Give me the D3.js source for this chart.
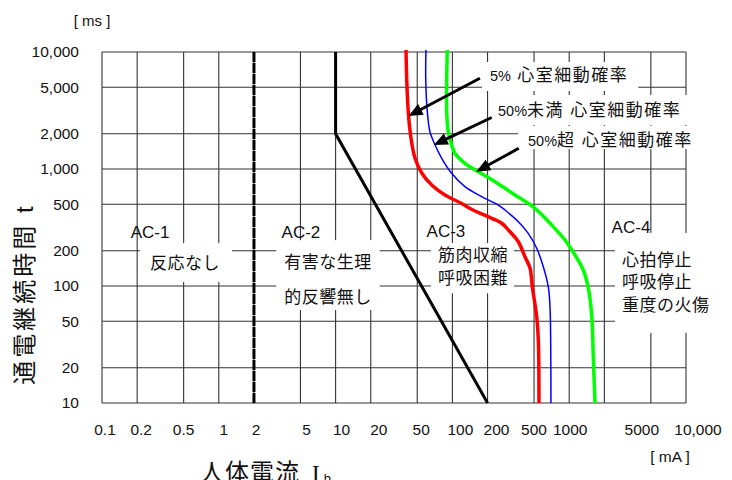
<!DOCTYPE html>
<html>
<head>
<meta charset="utf-8">
<script src="https://cdn.jsdelivr.net/npm/d3@7"></script>
<style>
  body { margin: 0; background: #fff; }
  text { font-family: "Liberation Sans", Arial, "Noto Sans CJK JP", sans-serif; fill: #111; }
</style>
</head>
<body>
<script>
// tick values / labels
var xTicks = [0.1, 0.2, 0.5, 1, 2, 5, 10, 20, 50, 100, 200, 500, 1000, 2000, 5000, 10000];
var xTickLabels = ["0.1", "0.2", "0.5", "1", "2", "5", "10", "20", "50", "100", "200", "500", "1000", "", "5000", "10,000"];
var yTicks = [10, 20, 50, 100, 200, 500, 1000, 2000, 5000, 10000];
var yTickLabels = ["10", "20", "50", "100", "200", "500", "1,000", "2,000", "5,000", "10,000"];

// boundary curves  [mA, ms]
var curveA = [[2, 10000], [2, 10]];
var curveB = [[10, 10000], [10, 2000], [200, 10]];
var curveC1 = [[40.1, 10400], [40.6, 6000], [41.9, 3070], [44.2, 1840], [47.8, 1240], [54.6, 924], [66.5, 730],
  [86.4, 600], [120, 507], [150, 446], [217, 379], [264, 344], [311, 291], [367, 239], [418, 178], [462, 142],
  [483, 98.6], [527, 54.7], [544, 34.6], [551, 10]];
var curveC2 = [[59.4, 10400], [59.1, 6000], [61.0, 3070], [64.3, 2070], [70.0, 1660], [81.0, 1235], [98.6, 919],
  [128, 706], [178, 580], [247, 492], [282, 446], [367, 354], [446, 282], [527, 210], [600, 146], [662, 98.6],
  [685, 66.5], [694, 34.6], [698, 10]];
var curveC3 = [[90.4, 10400], [89.4, 6000], [89.4, 3070], [92.2, 2070], [98.6, 1604], [105, 1362], [128, 1119],
  [167, 948], [232, 779], [324, 624], [509, 461], [708, 332], [920, 247], [1121, 184], [1320, 137], [1457, 96],
  [1558, 56.5], [1608, 24.7], [1663, 10]];

// arrows: tail -> tip
var arrows = [
  [[172, 5960], [42.1, 2840]],
  [[217, 2755], [69.3, 1604]],
  [[370, 1503], [160, 948]]
];

var W = 732, H = 480;
var svg = d3.select("body").append("svg").attr("width", W).attr("height", H);

var x = d3.scaleLog().domain([0.1, 10000]).range([102, 686]);
var y = d3.scaleLog().domain([10, 10000]).range([403, 52]);

// the x labels in the original sit a little off their grid lines
var xLabelNudge = [3, 4, 0, 5, 2, 6, 6, 8, 4, 8, 9, 0, 1, 0, -9, 12];

// grid
var grid = svg.append("g").attr("stroke", "#333").attr("stroke-width", 1.1);
grid.selectAll(".vx").data(xTicks).enter().append("line")
  .attr("x1", function (d) { return x(d); }).attr("x2", function (d) { return x(d); })
  .attr("y1", y(10000)).attr("y2", y(10));
grid.selectAll(".hy").data(yTicks).enter().append("line")
  .attr("y1", function (d) { return y(d); }).attr("y2", function (d) { return y(d); })
  .attr("x1", x(0.1)).attr("x2", x(10000));

// tick labels
svg.append("g").selectAll("text").data(xTicks).enter().append("text")
  .attr("x", function (d, i) { return x(d) + xLabelNudge[i]; }).attr("y", 430).attr("dy", "0.35em")
  .attr("text-anchor", "middle").attr("font-size", 15.5)
  .text(function (d, i) { return xTickLabels[i]; });
svg.append("g").selectAll("text").data(yTicks).enter().append("text")
  .attr("x", 79).attr("y", function (d) { return y(d); }).attr("dy", "0.35em")
  .attr("text-anchor", "end").attr("font-size", 15.5)
  .text(function (d, i) { return yTickLabels[i]; });

svg.append("text").attr("x", 92).attr("y", 21).attr("dy", "0.35em").attr("text-anchor", "middle")
  .attr("font-size", 15).text("[ ms ]");
svg.append("text").attr("x", 670).attr("y", 457).attr("dy", "0.35em").attr("text-anchor", "middle")
  .attr("font-size", 15.5).text("[ mA ]");

// axis titles
svg.append("text").attr("transform", "translate(25,294) rotate(-90)")
  .attr("text-anchor", "middle").attr("dy", "0.35em").attr("font-size", 24)
  .attr("letter-spacing", 3).text("通電継続時間 t");
var xt = svg.append("text").attr("x", 200).attr("y", 481).attr("font-size", 24);
xt.append("tspan").attr("letter-spacing", 1).text("人体電流 ");
xt.append("tspan").attr("font-family", "'Liberation Serif', serif").attr("dx", 4).text("I");
xt.append("tspan").attr("font-size", 13).attr("dx", 4).attr("dy", 2).text("b");

// text blocks with white boxes
var blocks = [
  { lines: ["反応なし"], x: 0.513, ys: [157], anchor: "middle", ls: 0.5, pad: [10, 20, 12, 19] },
  { lines: ["有害な生理", "的反響無し"], x: 8.6, ys: [160, 80.5], anchor: "middle", ls: 0.5, pad: [8, 22, 8, 13] },
  { lines: ["筋肉収縮", "呼吸困難"], x: 150, ys: [184, 116.4], anchor: "middle", ls: 0.5, pad: [7, 12, 6, 15] },
  { lines: ["心拍停止", "呼吸停止", "重度の火傷"], x: 2830, ys: [167, 109, 69], anchor: "start", ls: 0.5, pad: [7, 27, 20, 28] },
  { lines: ["5% 心室細動確率"], x: 210, ys: [6360], anchor: "start", ls: 1.5, pad: [8, 13, 10, 16] },
  { lines: ["50%未満 心室細動確率"], x: 246, ys: [3190], anchor: "start", ls: 1.5, pad: [8, 15, 8, 15] },
  { lines: ["50%超 心室細動確率"], x: 444, ys: [1770], anchor: "start", ls: 1.5, pad: [10, 14, 8, 9] }
];
var boxLayer = svg.append("g");
var markLayer = svg.append("g");
var textLayer = svg.append("g");

blocks.forEach(function (b) {
  var g = textLayer.append("g");
  b.lines.forEach(function (t, i) {
    var tx = g.append("text").attr("x", x(b.x)).attr("y", y(b.ys[i])).attr("dy", "0.35em")
      .attr("text-anchor", b.anchor).attr("font-size", 17);
    var m = t.match(/^([0-9%]+)(.*)$/);
    if (m) {
      // narrower latin prefix like "50%"
      tx.append("tspan").attr("font-size", 14.5).text(m[1]);
      tx.append("tspan").attr("letter-spacing", b.ls).text(m[2]);
    } else {
      tx.attr("letter-spacing", b.ls).text(t);
    }
  });
  var bb = g.node().getBBox();
  var top = y(b.ys[0]) - b.pad[1], bottom = y(b.ys[b.ys.length - 1]) + b.pad[3];
  boxLayer.append("rect").attr("x", bb.x - b.pad[0]).attr("y", top)
    .attr("width", bb.width + b.pad[0] + b.pad[2]).attr("height", bottom - top).attr("fill", "#fff");
});

// zone names (no box)
var zones = [["AC-1", 0.258, 291], ["AC-2", 5.05, 289], ["AC-3", 88, 295], ["AC-4", 3380, 321]];
textLayer.selectAll(".zone").data(zones).enter().append("text")
  .attr("x", function (d) { return x(d[1]); }).attr("y", function (d) { return y(d[2]); }).attr("dy", "0.35em")
  .attr("text-anchor", "middle").attr("font-size", 17).text(function (d) { return d[0]; });

// curves
var line = d3.line().x(function (d) { return x(d[0]); }).y(function (d) { return y(d[1]); });
var smooth = d3.line().x(function (d) { return x(d[0]); }).y(function (d) { return y(d[1]); })
  .curve(d3.curveCatmullRom.alpha(0.5));

markLayer.append("path").attr("d", line(curveA)).attr("fill", "none").attr("stroke", "#000")
  .attr("stroke-width", 3).attr("stroke-dasharray", "10,1");
markLayer.append("path").attr("d", line(curveB)).attr("fill", "none").attr("stroke", "#000")
  .attr("stroke-width", 3);
markLayer.append("path").attr("d", smooth(curveC1)).attr("fill", "none").attr("stroke", "#ff0000")
  .attr("stroke-width", 3.5);
markLayer.append("path").attr("d", smooth(curveC2)).attr("fill", "none").attr("stroke", "#0000ff")
  .attr("stroke-width", 1.5);
markLayer.append("path").attr("d", smooth(curveC3)).attr("fill", "none").attr("stroke", "#00ff00")
  .attr("stroke-width", 3.5);

// arrows
arrows.forEach(function (a) {
  var x1 = x(a[0][0]), y1 = y(a[0][1]), x2 = x(a[1][0]), y2 = y(a[1][1]);
  var dx = x2 - x1, dy = y2 - y1, len = Math.sqrt(dx * dx + dy * dy);
  var ux = dx / len, uy = dy / len, nx = -uy, ny = ux;
  var L = 14, w = 6;
  markLayer.append("line").attr("x1", x1).attr("y1", y1)
    .attr("x2", x2 - ux * L * 0.8).attr("y2", y2 - uy * L * 0.8)
    .attr("stroke", "#000").attr("stroke-width", 3);
  markLayer.append("path")
    .attr("d", "M" + x2 + "," + y2 + "L" + (x2 - ux * L + nx * w) + "," + (y2 - uy * L + ny * w) +
      "L" + (x2 - ux * L - nx * w) + "," + (y2 - uy * L - ny * w) + "Z")
    .attr("fill", "#000");
});
</script>
</body>
</html>
